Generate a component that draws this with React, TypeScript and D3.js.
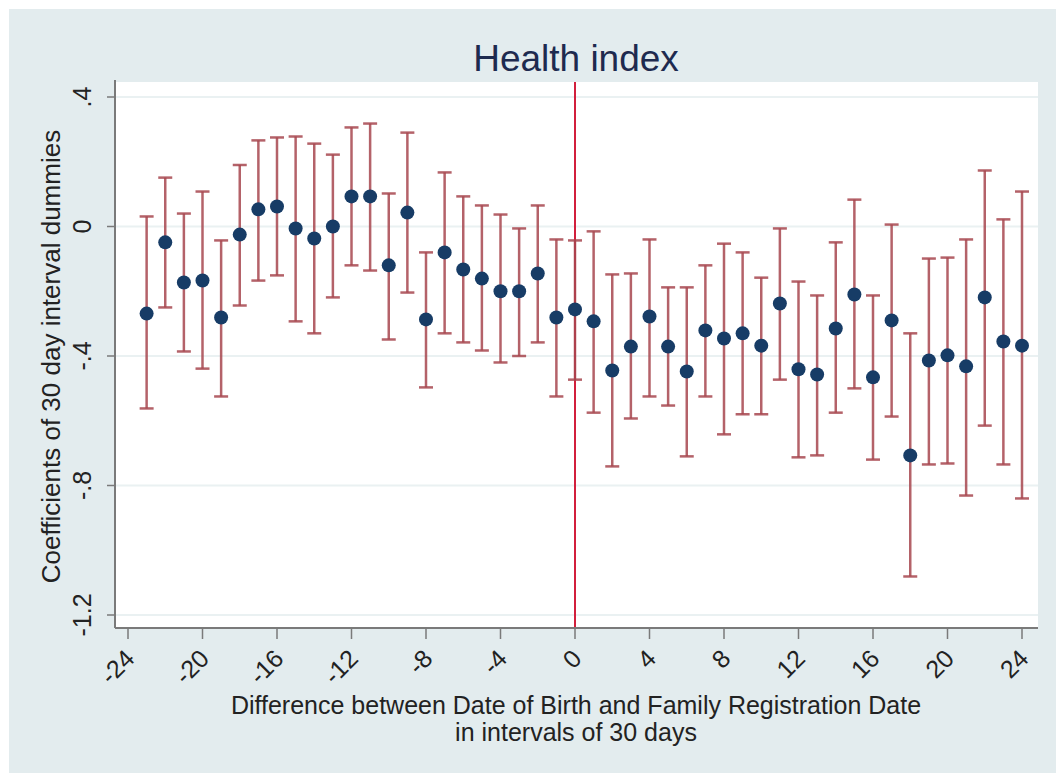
import React from 'react';
import * as d3 from 'd3';

// interval index relative to family registration date
const intervals = [
  -23, -22, -21, -20, -19, -18, -17, -16, -15, -14, -13, -12, -11, -10, -9, -8, -7, -6, -5, -4, -3, -2, -1,
  0, 1, 2, 3, 4, 5, 6, 7, 8, 9, 10, 11, 12, 13, 14, 15, 16, 17, 18, 19, 20, 21, 22, 23, 24,
];
const coef = [
  -0.269, -0.049, -0.173, -0.167, -0.281, -0.025, 0.053, 0.062, -0.006, -0.037, 0.0, 0.093, 0.093, -0.12, 0.043,
  -0.287, -0.08, -0.133, -0.161, -0.2, -0.2, -0.145, -0.281,
  -0.256, -0.293, -0.445, -0.371, -0.278, -0.371, -0.448, -0.321, -0.346, -0.33, -0.368, -0.238, -0.441, -0.457,
  -0.315, -0.21, -0.466, -0.29, -0.707, -0.414, -0.398, -0.432, -0.219, -0.355, -0.368,
];
const ciHigh = [
  0.031, 0.151, 0.04, 0.108, -0.043, 0.19, 0.266, 0.275, 0.278, 0.256, 0.222, 0.306, 0.318, 0.102, 0.29,
  -0.08, 0.167, 0.093, 0.065, 0.037, -0.006, 0.065, -0.04,
  -0.043, -0.015, -0.148, -0.145, -0.04, -0.188, -0.188, -0.12, -0.053, -0.08, -0.158, -0.006, -0.17, -0.213,
  -0.049, 0.083, -0.213, 0.006, -0.33, -0.099, -0.096, -0.04, 0.173, 0.022, 0.108,
];
const ciLow = [
  -0.562, -0.25, -0.386, -0.439, -0.525, -0.244, -0.167, -0.151, -0.293, -0.33, -0.219, -0.12, -0.136, -0.349,
  -0.204, -0.497, -0.33, -0.358, -0.383, -0.42, -0.4, -0.358, -0.525,
  -0.473, -0.575, -0.741, -0.593, -0.525, -0.553, -0.71, -0.525, -0.642, -0.58, -0.58, -0.473, -0.713, -0.707,
  -0.575, -0.5, -0.72, -0.587, -1.081, -0.735, -0.732, -0.831, -0.615, -0.735, -0.84,
];
const xTicks = [-24, -20, -16, -12, -8, -4, 0, 4, 8, 12, 16, 20, 24];
const yTicks = [0.4, 0, -0.4, -0.8, -1.2];

const W = 1056;
const H = 773;
const plot = { left: 116, right: 1038, top: 82, bottom: 627 };

const font = '"Liberation Sans", Arial, Helvetica, sans-serif';

const fmtY = (v: number) => {
  if (v === 0) return '0';
  const s = Math.abs(v).toString().replace(/^0/, '');
  return v < 0 ? `-${s}` : s;
};
const fmtX = (v: number) => (v < 0 ? `-${Math.abs(v)}` : `${v}`);

export default function App() {
  const x = d3.scaleLinear().domain([-24, 24]).range([128, 1022]);
  const y = d3.scaleLinear().domain([-1.2, 0.4]).range([615, 97]);
  const cap = 7;

  return (
    <svg
      width={W}
      height={H}
      style={{ position: 'absolute', left: 0, top: 0, display: 'block' }}
      fontFamily={font}
    >
      <rect x={0} y={0} width={W} height={H} fill="#ffffff" />
      <rect x={9} y={9} width={W - 9} height={H - 9} fill="#e3ecee" />
      <rect
        x={plot.left}
        y={plot.top}
        width={plot.right - plot.left}
        height={plot.bottom - plot.top}
        fill="#ffffff"
      />

      {/* grid lines */}
      {yTicks.map(t => (
        <line
          key={`g${t}`}
          x1={plot.left}
          x2={plot.right}
          y1={y(t)}
          y2={y(t)}
          stroke="#eaf1f2"
          strokeWidth={2}
        />
      ))}

      {/* vertical reference line at 0 */}
      <line x1={x(0)} x2={x(0)} y1={plot.top} y2={plot.bottom} stroke="#d21f3c" strokeWidth={2} />

      {/* error bars */}
      {intervals.map((d, i) => (
        <g key={`e${d}`} stroke="#a7464f" strokeWidth={2.5} strokeOpacity={0.85}>
          <line x1={x(d)} x2={x(d)} y1={y(ciHigh[i])} y2={y(ciLow[i])} />
          <line x1={x(d) - cap} x2={x(d) + cap} y1={y(ciHigh[i])} y2={y(ciHigh[i])} />
          <line x1={x(d) - cap} x2={x(d) + cap} y1={y(ciLow[i])} y2={y(ciLow[i])} />
        </g>
      ))}

      {/* point estimates */}
      {intervals.map((d, i) => (
        <circle key={`p${d}`} cx={x(d)} cy={y(coef[i])} r={7} fill="#173c66" />
      ))}

      {/* axes */}
      <line x1={plot.left - 1} x2={plot.left - 1} y1={plot.top - 2} y2={plot.bottom + 1} stroke="#7a7a7a" strokeWidth={2} />
      <line x1={plot.left - 1} x2={plot.right} y1={plot.bottom + 1} y2={plot.bottom + 1} stroke="#7a7a7a" strokeWidth={2} />

      {yTicks.map(t => (
        <g key={`yt${t}`}>
          <line x1={plot.left - 9} x2={plot.left - 1} y1={y(t)} y2={y(t)} stroke="#7a7a7a" strokeWidth={1.5} />
          <text
            transform={`translate(${plot.left - 25},${y(t)}) rotate(-90)`}
            textAnchor="middle"
            fontSize={25}
            fill="#222"
          >
            {fmtY(t)}
          </text>
        </g>
      ))}

      {xTicks.map(t => (
        <g key={`xt${t}`}>
          <line x1={x(t)} x2={x(t)} y1={plot.bottom + 1} y2={plot.bottom + 12} stroke="#7a7a7a" strokeWidth={1.5} />
          <text
            transform={`translate(${x(t) + 2},${plot.bottom + 27}) rotate(-45)`}
            textAnchor="end"
            dy="0.35em"
            fontSize={25}
            fill="#222"
          >
            {fmtX(t)}
          </text>
        </g>
      ))}

      <text x={576} y={71} textAnchor="middle" fontSize={37} fill="#1e2a4f">
        Health index
      </text>

      <text
        transform={`translate(60,${(plot.top + plot.bottom) / 2 + 2}) rotate(-90)`}
        textAnchor="middle"
        fontSize={26}
        fill="#222"
      >
        Coefficients of 30 day interval dummies
      </text>

      <text x={576} y={714} textAnchor="middle" fontSize={25} fill="#222">
        Difference between Date of Birth and Family Registration Date
      </text>
      <text x={576} y={741} textAnchor="middle" fontSize={25} fill="#222">
        in intervals of 30 days
      </text>
    </svg>
  );
}
